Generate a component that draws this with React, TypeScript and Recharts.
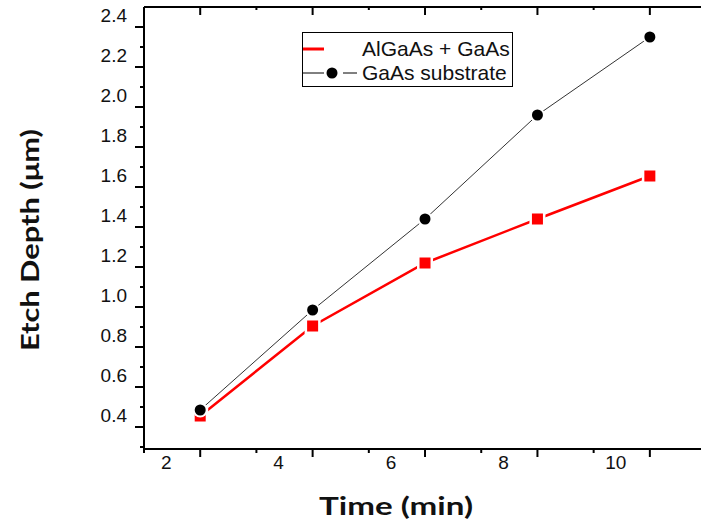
import React from "react";
import { LineChart, Line, XAxis, YAxis, Legend } from "recharts";

// etch time (min) and measured depth (um)
const times = [2, 4, 6, 8, 10];
const alGaAsDepth = [0.455, 0.905, 1.22, 1.44, 1.655];
const gaAsDepth = [0.485, 0.985, 1.44, 1.96, 2.35];

const xTicks = [1, 2, 3, 4, 5, 6, 7, 8, 9, 10];
const xLabels = [2, 4, 6, 8, 10];
const yTicks = [0.3, 0.4, 0.5, 0.6, 0.7, 0.8, 0.9, 1.0, 1.1, 1.2, 1.3, 1.4, 1.5, 1.6, 1.7, 1.8, 1.9, 2.0, 2.1, 2.2, 2.3, 2.4];

const data = times.map((t, i) => ({ time: t, algaas: alGaAsDepth[i], gaas: gaAsDepth[i] }));

const tickFont = { fontFamily: "'Liberation Sans', Arial, sans-serif", fontSize: 19, fill: "#111" };
const titleFont = { fontFamily: "Lato, 'Open Sans', sans-serif", fontSize: 24, fontWeight: 700, fill: "#111" };
const legendFont = { fontFamily: "'Liberation Sans', Arial, sans-serif", fontSize: 21, fill: "#111" };

const isMajorY = (v: number) => Math.round(v * 10) % 2 === 0;

const BottomTick = (props: any) => {
  const { x, y, payload } = props;
  const major = xLabels.includes(payload.value);
  return (
    <g>
      <line x1={x} x2={x} y1={y} y2={y + (major ? 8 : 4)} stroke="#000" strokeWidth={2} />
      {major && (
        <text x={x - 34} y={y + 13} dy="0.355em" textAnchor="middle" {...tickFont}>
          {payload.value}
        </text>
      )}
    </g>
  );
};

const TopTick = (props: any) => {
  const { x, y, payload } = props;
  const major = xLabels.includes(payload.value);
  return <line x1={x} x2={x} y1={y} y2={y + (major ? 8 : 3)} stroke="#000" strokeWidth={2} />;
};

const LeftTick = (props: any) => {
  const { x, y, payload } = props;
  const major = isMajorY(payload.value);
  return (
    <g>
      <line x1={x} x2={x - (major ? 9 : 4)} y1={y} y2={y} stroke="#000" strokeWidth={2} />
      {major && (
        <text x={x - 17} y={y - 12} dy="0.355em" textAnchor="end" {...tickFont}>
          {payload.value.toFixed(1)}
        </text>
      )}
    </g>
  );
};

// the right frame line sits just outside the picture, only its inward ticks show
const RightTick = (props: any) => {
  const { x, y, payload } = props;
  const major = isMajorY(payload.value);
  return <line x1={x + 4} x2={x + 4 - (major ? 9 : 4)} y1={y} y2={y} stroke="#000" strokeWidth={2} />;
};

const XTitle = () => (
  <text x={396} y={515} textAnchor="middle" textLength={154} lengthAdjust="spacingAndGlyphs" {...titleFont}>
    Time (min)
  </text>
);

const YTitle = () => (
  <text
    x={30}
    y={240}
    dy="0.36em"
    textAnchor="middle"
    transform="rotate(-90 30 240)"
    textLength={222}
    lengthAdjust="spacingAndGlyphs"
    {...titleFont}
  >
    Etch Depth (μm)
  </text>
);

const SquareDot = (props: any) => {
  const { cx, cy, index } = props;
  return (
    <g key={`sq-${index}`}>
      <rect x={cx - 8} y={cy - 8} width={16} height={16} fill="#fff" />
      <rect x={cx - 5.5} y={cy - 5.5} width={11} height={11} fill="#ff0000" />
    </g>
  );
};

const CircleDot = (props: any) => {
  const { cx, cy, index } = props;
  return (
    <g key={`ci-${index}`}>
      <circle cx={cx} cy={cy} r={7.5} fill="#fff" />
      <circle cx={cx} cy={cy} r={5.5} fill="#000" />
    </g>
  );
};

const LegendBox = () => (
  <div style={{ width: 211, height: 55, border: "1px solid #000", boxSizing: "border-box", background: "#fff" }}>
    <svg width={209} height={53} style={{ display: "block" }}>
      <line x1={0} x2={21} y1={16} y2={16} stroke="#ff0000" strokeWidth={3} />
      <text x={59} y={16} dy="0.355em" {...legendFont}>
        AlGaAs + GaAs
      </text>
      <line x1={0} x2={21} y1={40} y2={40} stroke="#000" strokeWidth={1} />
      <circle cx={29} cy={40} r={5.5} fill="#000" />
      <line x1={40} x2={54} y1={40} y2={40} stroke="#000" strokeWidth={1} />
      <text x={59} y={40} dy="0.355em" {...legendFont}>
        GaAs substrate
      </text>
    </svg>
  </div>
);

export default function App() {
  return (
    <div style={{ width: 702, height: 524, background: "#fff" }}>
      <style>{`body { margin: 0; overflow: hidden; }`}</style>
      <LineChart width={702} height={524} data={data} margin={{ top: 0, right: 0, bottom: 45, left: 84 }}>
        <XAxis
          dataKey="time"
          type="number"
          domain={[1, 10.91]}
          ticks={xTicks}
          interval={0}
          tickSize={0}
          tickMargin={0}
          tickLine={false}
          tick={<BottomTick />}
          axisLine={{ stroke: "#000", strokeWidth: 2 }}
          height={30}
          label={<XTitle />}
        />
        <XAxis
          xAxisId="top"
          orientation="top"
          dataKey="time"
          type="number"
          domain={[1, 10.91]}
          ticks={xTicks}
          interval={0}
          tickSize={0}
          tickMargin={0}
          tickLine={false}
          tick={<TopTick />}
          axisLine={{ stroke: "#000", strokeWidth: 2 }}
          height={7}
        />
        <YAxis
          type="number"
          domain={[0.29, 2.5]}
          ticks={yTicks}
          interval={0}
          tickSize={0}
          tickMargin={0}
          tickLine={false}
          tick={<LeftTick />}
          axisLine={{ stroke: "#000", strokeWidth: 2 }}
          width={60}
          label={<YTitle />}
        />
        <YAxis
          yAxisId="right"
          orientation="right"
          type="number"
          domain={[0.29, 2.5]}
          ticks={yTicks}
          interval={0}
          tickSize={0}
          tickMargin={0}
          tickLine={false}
          tick={<RightTick />}
          axisLine={false}
          width={1}
        />
        <Legend
          layout="horizontal"
          verticalAlign="middle"
          content={<LegendBox />}
          wrapperStyle={{ left: 302, top: 32, width: 211, height: 55 }}
        />
        <Line
          dataKey="algaas"
          name="AlGaAs + GaAs"
          stroke="#ff0000"
          strokeWidth={2.5}
          dot={<SquareDot />}
          activeDot={false}
          isAnimationActive={false}
        />
        <Line
          dataKey="gaas"
          name="GaAs substrate"
          stroke="#333"
          strokeWidth={1}
          dot={<CircleDot />}
          activeDot={false}
          isAnimationActive={false}
        />
      </LineChart>
    </div>
  );
}
